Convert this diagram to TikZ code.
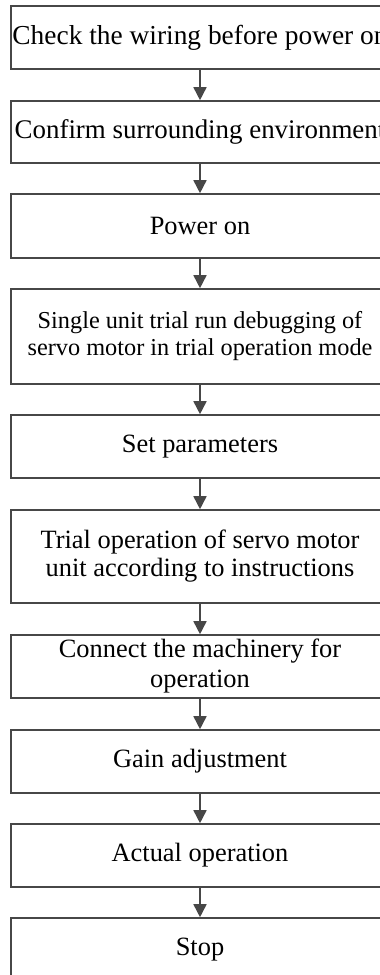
\documentclass[tikz,border=0pt]{standalone}
\usepackage{fontspec}
\setmainfont{Liberation Serif}
\usetikzlibrary{arrows.meta}
\definecolor{linegray}{HTML}{474747}
\begin{document}
\begin{tikzpicture}[x=1pt,y=-1pt,
  stepbox/.style={draw=linegray,line width=1.6pt,minimum width=378pt,inner sep=0pt,
    align=center,font=\fontsize{26.4}{28}\selectfont,text=black},
  flow/.style={draw=linegray,line width=1.6pt,-{Triangle[length=13pt,width=13pt]}}]
\clip (0,0) rectangle (380,975);
\fill[white] (0,0) rectangle (380,975);
\node[stepbox,minimum height=63pt,font=\fontsize{27.4}{28}\selectfont] (b1) at (200,37.5) {Check the wiring before power on};
\node[stepbox,minimum height=62pt,font=\fontsize{26.9}{28}\selectfont] (b2) at (200,132) {Confirm surrounding environment};
\node[stepbox,minimum height=64pt] (b3) at (200,226) {Power on};
\node[stepbox,minimum height=95pt,font=\fontsize{24.3}{27}\selectfont] (b4) at (200,336.5) {Single unit trial run debugging of\\servo motor in trial operation mode};
\node[stepbox,minimum height=63pt] (b5) at (200,446.5) {Set parameters};
\node[stepbox,minimum height=93pt] (b6) at (200,556.5) {Trial operation of servo motor\\unit according to instructions};
\node[stepbox,minimum height=63pt,font=\fontsize{26.4}{30}\selectfont] (b7) at (200,666.5) {Connect the machinery for\\operation};
\node[stepbox,minimum height=63pt] (b8) at (200,761.5) {Gain adjustment};
\node[stepbox,minimum height=63pt] (b9) at (200,855.5) {Actual operation};
\node[stepbox,minimum height=63pt] (b10) at (200,949.5) {Stop};
\draw[flow] (b1) -- (b2);
\draw[flow] (b2) -- (b3);
\draw[flow] (b3) -- (b4);
\draw[flow] (b4) -- (b5);
\draw[flow] (b5) -- (b6);
\draw[flow] (b6) -- (b7);
\draw[flow] (b7) -- (b8);
\draw[flow] (b8) -- (b9);
\draw[flow] (b9) -- (b10);
\end{tikzpicture}
\end{document}
